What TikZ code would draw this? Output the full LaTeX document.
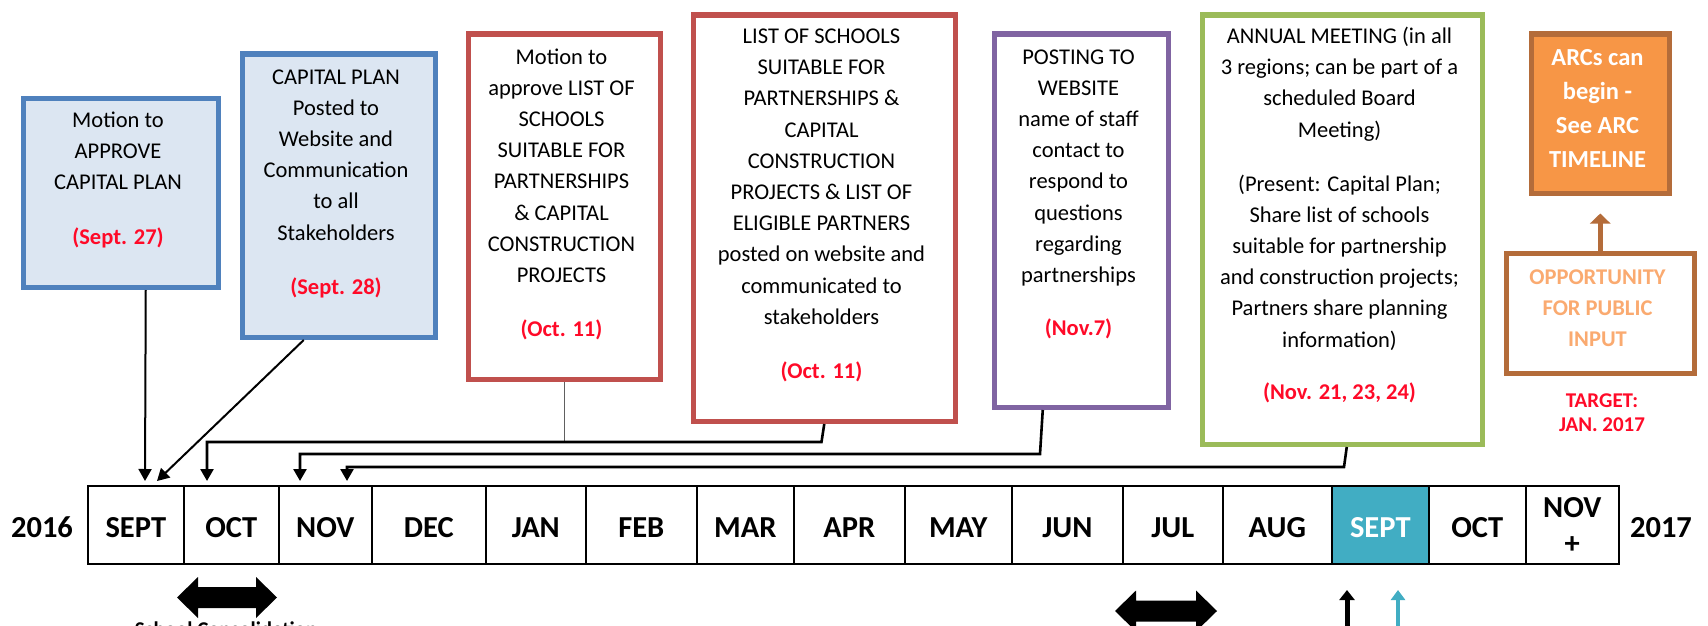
\documentclass[tikz,border=0pt]{standalone}
\usepackage{fontspec}
\setmainfont{Carlito}
\usetikzlibrary{arrows.meta}
\definecolor{bxblue}{HTML}{4F81BD}
\definecolor{bxbluefill}{HTML}{DCE6F2}
\definecolor{bxred}{HTML}{C0504D}
\definecolor{bxpurple}{HTML}{8064A2}
\definecolor{bxgreen}{HTML}{9BBB59}
\definecolor{arcfill}{HTML}{F79646}
\definecolor{arcline}{HTML}{B46C3A}
\definecolor{opptext}{HTML}{FAAA70}
\definecolor{datered}{HTML}{FF0A28}
\definecolor{tealc}{HTML}{41ADC3}
\definecolor{stemgray}{HTML}{606060}
\begin{document}
\begin{tikzpicture}[x=1pt,y=-1pt,
  box/.style={draw, line width=5.5pt, inner sep=0pt, anchor=north west},
  txt/.style={align=center, inner sep=0pt, anchor=north, font=\fontsize{22.5}{31.2}\selectfont},
  cellbase/.style={draw, line width=1.6pt, inner sep=0pt, minimum height=78pt, anchor=west},
  cell/.style={cellbase, font=\fontsize{30.5}{36}\selectfont\bfseries, text height=25pt, text depth=0pt},
  yr/.style={inner sep=0pt, font=\fontsize{30.5}{36}\selectfont\bfseries, text height=25pt, text depth=0pt},
  conn/.style={line width=2pt, -{Triangle[width=13pt,length=12pt]}},
  hline/.style={line width=2.6pt, -{Triangle[width=13pt,length=12pt]}},
  stem/.style={line width=1.5pt, stemgray},
]
\useasboundingbox (0,0) rectangle (1708,626);
\fill[white] (0,0) rectangle (1708,626);

% boxes
\node[box, draw=bxblue, fill=bxbluefill, minimum width=195pt, minimum height=189pt] (b1) at (20.5,95.5) {};
\node[box, draw=bxblue, fill=bxbluefill, minimum width=193pt, minimum height=283pt] (b2) at (239.5,51.5) {};
\node[box, draw=bxred, minimum width=192pt, minimum height=345pt] (b3) at (465.5,31.5) {};
\node[box, draw=bxred, minimum width=262pt, minimum height=406pt] (b4) at (690.5,12.5) {};
\node[box, draw=bxpurple, minimum width=174pt, minimum height=373pt] (b5) at (991.5,31.5) {};
\node[box, draw=bxgreen, minimum width=280pt, minimum height=429pt] (b6) at (1199.5,12.5) {};
\node[box, draw=arcline, fill=arcfill, minimum width=138pt, minimum height=159pt] (b7) at (1528.5,31.5) {};
\node[box, draw=arcline, minimum width=188pt, minimum height=120pt] (b8) at (1503.5,250.5) {};

% box texts
\node[txt] (t1) at (118,105.4) {\strut Motion to\\APPROVE\\CAPITAL PLAN\\[23.8pt]{\bfseries\color{datered}(Sept. 27)}};
\node[txt] (t2) at (336,62.1) {\strut CAPITAL PLAN\\Posted to\\Website and\\Communication\\to all\\Stakeholders\\[22.8pt]{\bfseries\color{datered}(Sept. 28)}};
\node[txt] (t3) at (561.5,42.1) {\strut Motion to\\approve LIST OF\\SCHOOLS\\SUITABLE FOR\\PARTNERSHIPS\\\& CAPITAL\\CONSTRUCTION\\PROJECTS\\[23pt]{\bfseries\color{datered}(Oct. 11)}};
\node[txt] (t4) at (821.5,21.4) {\strut LIST OF SCHOOLS\\SUITABLE FOR\\PARTNERSHIPS \&\\CAPITAL\\CONSTRUCTION\\PROJECTS \& LIST OF\\ELIGIBLE PARTNERS\\posted on website and\\communicated to\\stakeholders\\[22.8pt]{\bfseries\color{datered}(Oct. 11)}};
\node[txt] (t5) at (1078.5,42.1) {\strut POSTING TO\\WEBSITE\\name of staff\\contact to\\respond to\\questions\\regarding\\partnerships\\[22pt]{\bfseries\color{datered}(Nov.7)}};
\node[txt] (t6) at (1339.5,21.4) {\strut ANNUAL MEETING (in all\\3 regions; can be part of a\\scheduled Board\\Meeting)\\[22.8pt](Present: Capital Plan;\\Share list of schools\\suitable for partnership\\and construction projects;\\Partners share planning\\information)\\[21.5pt]{\bfseries\color{datered}(Nov. 21, 23, 24)}};
\node[txt, font=\fontsize{24.5}{34}\selectfont\bfseries, text=white] (t7) at (1597.5,41.4) {\strut ARCs can\\begin -\\See ARC\\TIMELINE};
\node[txt, font=\fontsize{22.5}{31}\selectfont\bfseries, text=opptext] (t8) at (1597.5,262.2) {\strut OPPORTUNITY\\FOR PUBLIC\\INPUT};
\node[txt, font=\fontsize{21}{24}\selectfont\bfseries, text=datered] (t9) at (1602,390) {\strut TARGET:\\JAN. 2017};

% timeline
\node[yr] (y16) at (42,525) {2016};
\node[cell, minimum width=96pt] (c1) at (87,525) {SEPT};
\node[cell, minimum width=95pt] (c2) at (183,525) {OCT};
\node[cell, minimum width=93pt] (c3) at (278,525) {NOV};
\node[cell, minimum width=114pt] (c4) at (371,525) {DEC};
\node[cell, minimum width=100pt] (c5) at (485,525) {JAN};
\node[cell, minimum width=111pt] (c6) at (585,525) {FEB};
\node[cell, minimum width=97pt] (c7) at (696,525) {MAR};
\node[cell, minimum width=111pt] (c8) at (793,525) {APR};
\node[cell, minimum width=107pt] (c9) at (904,525) {MAY};
\node[cell, minimum width=111pt] (c10) at (1011,525) {JUN};
\node[cell, minimum width=100pt] (c11) at (1122,525) {JUL};
\node[cell, minimum width=109pt] (c12) at (1222,525) {AUG};
\node[cell, minimum width=97pt, fill=tealc, text=white] (c13) at (1331,525) {SEPT};
\node[cell, minimum width=97pt] (c14) at (1428,525) {OCT};
\node[cellbase, minimum width=93pt, align=center, font=\fontsize{30.5}{36}\selectfont\bfseries] (c15) at (1525,525) {NOV\\+};
\node[yr] (y17) at (1661,525) {2017};

% connector coordinates
\coordinate (tipA) at (145,481);
\coordinate (tipB) at (157,481);
\coordinate (tipC) at (207,481);
\coordinate (tipD) at (300,481);
\coordinate (tipE) at (347,481);
\coordinate (hC) at (821.5,442);
\coordinate (hD) at (1040,454);
\coordinate (hE) at (1344,467);

\draw[conn] ([xshift=25pt]b1.south) -- (tipA);
\draw[conn] ([xshift=-35pt]b2.south) -- (tipB);
\draw[stem] (b3.south) -- (b3.south |- hC);
\draw[hline] (b4.south) -- (hC) -| (tipC);
\draw[hline] ([xshift=-38.5pt]b5.south) -- (hD) -| (tipD);
\draw[hline] ([xshift=4.5pt]b6.south) -- (hE) -| (tipE);

% arrow from opportunity box to ARC box
\draw[line width=5.5pt, arcline, -{Triangle[width=20pt,length=10pt]}] (b8.north) -- ([yshift=-17.5pt]b7.south);

% bottom up arrows
\coordinate (ubA) at (1347,640);
\coordinate (utA) at (1347,590);
\coordinate (ubB) at (1398,640);
\coordinate (utB) at (1398,590);
\draw[line width=5pt, -{Triangle[width=15pt,length=10pt]}] (ubA) -- (utA);
\draw[line width=4.5pt, tealc, -{Triangle[width=14pt,length=10pt]}] (ubB) -- (utB);

% block double arrows
\fill (177,597.5) -- (198,577) -- (198,587) -- (256,587) -- (256,577) -- (277,597.5) -- (256,618) -- (256,608) -- (198,608) -- (198,618) -- cycle;
\fill (1115,611) -- (1136,590.5) -- (1136,600.5) -- (1196,600.5) -- (1196,590.5) -- (1217,611) -- (1196,631.5) -- (1196,621.5) -- (1136,621.5) -- (1136,631.5) -- cycle;

\node[anchor=north, inner sep=0pt, font=\fontsize{21}{24}\selectfont\bfseries] (sc) at (226,622) {School Consolidation};
\end{tikzpicture}
\end{document}
